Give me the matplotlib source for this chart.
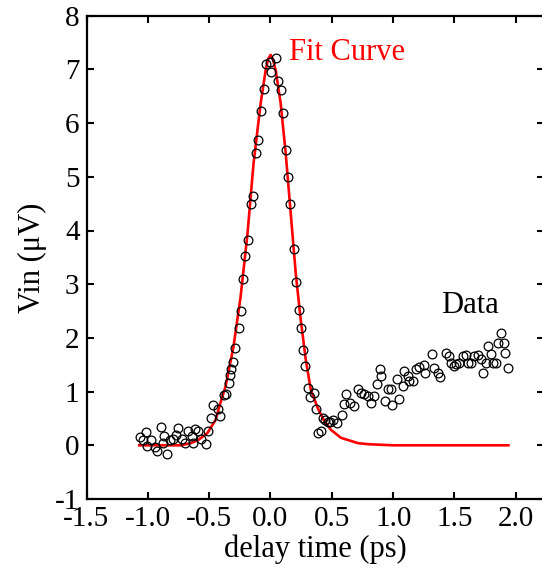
import matplotlib
matplotlib.use("Agg")
import matplotlib.pyplot as plt

plt.rcParams['font.family'] = ['Liberation Serif', 'DejaVu Serif']
plt.rcParams['axes.unicode_minus'] = False

# measured points (delay in ps, signal in uV)
data_x = [-1.062, -1.038, -1.013, -1.005, -0.972, -0.940, -0.923, -0.891, -0.874, -0.866,
          -0.841, -0.817, -0.792, -0.768, -0.751, -0.719, -0.694, -0.670, -0.637, -0.629,
          -0.612, -0.588, -0.563, -0.522, -0.506, -0.481, -0.465, -0.424, -0.408, -0.383,
          -0.359, -0.342, -0.330, -0.318, -0.305, -0.293, -0.260, -0.244, -0.220, -0.211,
          -0.187, -0.162, -0.146, -0.121, -0.105, -0.080, -0.056, -0.039, -0.007, 0.001,
          0.042, 0.059, 0.083, 0.100, 0.124, 0.141, 0.157, 0.190, 0.206, 0.231,
          0.247, 0.263, 0.280, 0.304, 0.321, 0.353, 0.370, 0.386, 0.411, 0.427,
          0.443, 0.468, 0.484, 0.509, 0.542, 0.583, 0.599, 0.615, 0.648, 0.681,
          0.713, 0.738, 0.763, 0.795, 0.820, 0.844, 0.869, 0.894, 0.902, 0.934,
          0.959, 0.984, 0.992, 1.033, 1.049, 1.082, 1.090, 1.123, 1.131, 1.164,
          1.188, 1.213, 1.254, 1.262, 1.319, 1.335, 1.368, 1.385, 1.434, 1.458,
          1.475, 1.499, 1.515, 1.540, 1.573, 1.597, 1.614, 1.638, 1.663, 1.695,
          1.720, 1.736, 1.761, 1.777, 1.794, 1.818, 1.835, 1.859, 1.876, 1.900,
          1.916, 1.933]
data_y = [0.15, 0.09, 0.24, -0.02, 0.09, -0.04, -0.11, 0.34, 0.04, 0.17,
          -0.17, 0.09, 0.11, 0.19, 0.32, 0.11, 0.04, 0.26, 0.17, 0.04,
          0.30, 0.26, 0.11, 0.02, 0.26, 0.50, 0.75, 0.67, 0.54, 0.93,
          0.95, 1.16, 1.30, 1.42, 1.55, 1.81, 2.18, 2.50, 3.10, 3.52,
          3.82, 4.49, 4.64, 5.44, 5.69, 6.22, 6.63, 7.10, 7.13, 6.96,
          7.22, 6.79, 6.62, 6.19, 5.50, 5.00, 4.50, 3.65, 3.04, 2.52,
          2.18, 1.77, 1.48, 1.07, 0.90, 0.97, 0.68, 0.23, 0.27, 0.51,
          0.47, 0.43, 0.43, 0.47, 0.42, 0.57, 0.76, 0.95, 0.78, 0.73,
          1.04, 0.97, 0.95, 0.91, 0.78, 0.91, 1.14, 1.42, 1.29, 0.82,
          1.04, 1.04, 0.75, 1.23, 0.86, 1.10, 1.38, 1.29, 1.19, 1.19,
          1.42, 1.45, 1.49, 1.34, 1.70, 1.44, 1.34, 1.27, 1.72, 1.66,
          1.53, 1.47, 1.51, 1.53, 1.66, 1.68, 1.53, 1.53, 1.66, 1.68,
          1.60, 1.34, 1.53, 1.85, 1.70, 1.53, 1.53, 1.90, 2.09, 1.90,
          1.72, 1.44]

# fit curve
fit_x = [-1.07, -0.73, -0.65, -0.588, -0.514, -0.448, -0.408, -0.367, -0.302, -0.244,
         -0.187, -0.138, -0.080, -0.039, -0.02, 0.001, 0.02, 0.042, 0.083, 0.124,
         0.165, 0.206, 0.247, 0.288, 0.329, 0.386, 0.435, 0.492, 0.574, 0.713,
         0.8, 1.0, 1.94]
fit_y = [0.0, 0.0, 0.04, 0.10, 0.23, 0.47, 0.79, 1.09, 1.83, 2.76,
         3.95, 5.25, 6.37, 6.99, 7.19, 7.27, 7.19, 6.99, 6.37, 5.44,
         4.32, 3.20, 2.33, 1.59, 1.03, 0.69, 0.47, 0.29, 0.14, 0.04,
         0.02, 0.0, 0.0]

x_ticks = [-1.5, -1.0, -0.5, 0.0, 0.5, 1.0, 1.5, 2.0]
y_ticks = list(range(-1, 9))

fig = plt.figure(figsize=(5.42, 5.81), dpi=100)
ax = fig.add_axes([86.5 / 542, 82 / 581, (544 - 86.5) / 542, (499 - 15.7) / 581])

ax.plot(fit_x, fit_y, color='red', lw=1.9, zorder=2)
ax.plot(data_x, data_y, 'o', mfc='none', mec='black', ms=6.3, mew=0.9, zorder=3)

ax.text(0.148, 7.31, 'Fit Curve', color='red', fontsize=22, va='center', ha='left')
ax.text(1.393, 2.61, 'Data', color='black', fontsize=22, va='center', ha='left')

ax.set_xlim(-1.5, 2.23)
ax.set_ylim(-1, 8)
ax.set_xticks(x_ticks)
ax.set_xticklabels([f'{t:.1f}' for t in x_ticks])
ax.set_yticks(y_ticks)

ax.tick_params(direction='in', length=5, width=1.5, top=True, right=True,
               labelsize=21, pad=5)
for s in ax.spines.values():
    s.set_linewidth(1.6)

ax.set_xlabel('delay time (ps)', fontsize=22, labelpad=2)
ax.set_ylabel('Vin (\u03bcV)', fontsize=22, labelpad=6)

fig.savefig('out.png', dpi=100)
